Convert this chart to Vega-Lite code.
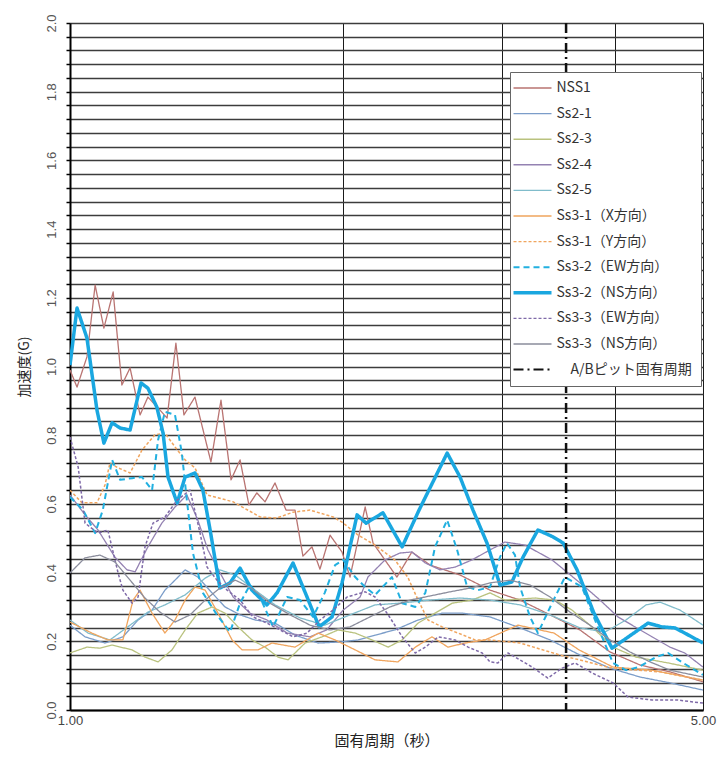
{
  "$schema": "https://vega.github.io/schema/vega-lite/v6.json",
  "width": 633,
  "height": 687,
  "autosize": {"type": "none"},
  "padding": {"left": 70, "top": 23, "right": 19, "bottom": 48},
  "background": "white",
  "config": {"view": {"stroke": null}},
  "datasets": {
    "pit": [{"period": 3.53, "series": "A/Bピット固有周期"}],
    "spectra": [
      {"series":"NSS1","period":1.000,"acc":0.990},{"series":"NSS1","period":1.018,"acc":0.940},{"series":"NSS1","period":1.044,"acc":1.028},{"series":"NSS1","period":1.066,"acc":1.237},{"series":"NSS1","period":1.090,"acc":1.112},{"series":"NSS1","period":1.116,"acc":1.217},{"series":"NSS1","period":1.141,"acc":0.946},{"series":"NSS1","period":1.165,"acc":0.996},{"series":"NSS1","period":1.195,"acc":0.859},{"series":"NSS1","period":1.219,"acc":0.911},{"series":"NSS1","period":1.257,"acc":0.873},{"series":"NSS1","period":1.280,"acc":0.850},{"series":"NSS1","period":1.309,"acc":1.068},{"series":"NSS1","period":1.336,"acc":0.859},{"series":"NSS1","period":1.374,"acc":0.911},{"series":"NSS1","period":1.431,"acc":0.722},{"series":"NSS1","period":1.468,"acc":0.902},{"series":"NSS1","period":1.506,"acc":0.670},{"series":"NSS1","period":1.541,"acc":0.728},{"series":"NSS1","period":1.576,"acc":0.597},{"series":"NSS1","period":1.608,"acc":0.632},{"series":"NSS1","period":1.642,"acc":0.606},{"series":"NSS1","period":1.684,"acc":0.661},{"series":"NSS1","period":1.732,"acc":0.582},{"series":"NSS1","period":1.772,"acc":0.582},{"series":"NSS1","period":1.808,"acc":0.448},{"series":"NSS1","period":1.850,"acc":0.475},{"series":"NSS1","period":1.888,"acc":0.410},{"series":"NSS1","period":1.937,"acc":0.509},{"series":"NSS1","period":1.997,"acc":0.460},{"series":"NSS1","period":2.038,"acc":0.387},{"series":"NSS1","period":2.118,"acc":0.591},{"series":"NSS1","period":2.161,"acc":0.486},{"series":"NSS1","period":2.216,"acc":0.445},{"series":"NSS1","period":2.296,"acc":0.387},{"series":"NSS1","period":2.385,"acc":0.460},{"series":"NSS1","period":2.498,"acc":0.422},{"series":"NSS1","period":2.696,"acc":0.393},{"series":"NSS1","period":2.909,"acc":0.349},{"series":"NSS1","period":3.140,"acc":0.320},{"series":"NSS1","period":3.389,"acc":0.277},{"series":"NSS1","period":3.657,"acc":0.233},{"series":"NSS1","period":3.947,"acc":0.169},{"series":"NSS1","period":4.260,"acc":0.131},{"series":"NSS1","period":4.597,"acc":0.111},{"series":"NSS1","period":5.000,"acc":0.082},

      {"series":"Ss2-1","period":1.000,"acc":0.247},{"series":"Ss2-1","period":1.039,"acc":0.213},{"series":"Ss2-1","period":1.093,"acc":0.195},{"series":"Ss2-1","period":1.144,"acc":0.213},{"series":"Ss2-1","period":1.189,"acc":0.262},{"series":"Ss2-1","period":1.232,"acc":0.291},{"series":"Ss2-1","period":1.273,"acc":0.349},{"series":"Ss2-1","period":1.306,"acc":0.378},{"series":"Ss2-1","period":1.340,"acc":0.408},{"series":"Ss2-1","period":1.384,"acc":0.387},{"series":"Ss2-1","period":1.435,"acc":0.341},{"series":"Ss2-1","period":1.483,"acc":0.300},{"series":"Ss2-1","period":1.541,"acc":0.277},{"series":"Ss2-1","period":1.601,"acc":0.262},{"series":"Ss2-1","period":1.684,"acc":0.253},{"series":"Ss2-1","period":1.772,"acc":0.218},{"series":"Ss2-1","period":1.879,"acc":0.195},{"series":"Ss2-1","period":1.987,"acc":0.198},{"series":"Ss2-1","period":2.081,"acc":0.204},{"series":"Ss2-1","period":2.172,"acc":0.218},{"series":"Ss2-1","period":2.284,"acc":0.233},{"series":"Ss2-1","period":2.423,"acc":0.262},{"series":"Ss2-1","period":2.576,"acc":0.282},{"series":"Ss2-1","period":2.710,"acc":0.282},{"series":"Ss2-1","period":2.909,"acc":0.271},{"series":"Ss2-1","period":3.140,"acc":0.239},{"series":"Ss2-1","period":3.389,"acc":0.204},{"series":"Ss2-1","period":3.657,"acc":0.160},{"series":"Ss2-1","period":3.947,"acc":0.122},{"series":"Ss2-1","period":4.260,"acc":0.096},{"series":"Ss2-1","period":4.597,"acc":0.079},{"series":"Ss2-1","period":5.000,"acc":0.058},

      {"series":"Ss2-3","period":1.000,"acc":0.166},{"series":"Ss2-3","period":1.044,"acc":0.183},{"series":"Ss2-3","period":1.079,"acc":0.180},{"series":"Ss2-3","period":1.113,"acc":0.189},{"series":"Ss2-3","period":1.171,"acc":0.175},{"series":"Ss2-3","period":1.210,"acc":0.154},{"series":"Ss2-3","period":1.251,"acc":0.140},{"series":"Ss2-3","period":1.296,"acc":0.175},{"series":"Ss2-3","period":1.340,"acc":0.233},{"series":"Ss2-3","period":1.384,"acc":0.282},{"series":"Ss2-3","period":1.435,"acc":0.300},{"series":"Ss2-3","period":1.483,"acc":0.282},{"series":"Ss2-3","period":1.533,"acc":0.242},{"series":"Ss2-3","period":1.588,"acc":0.204},{"series":"Ss2-3","period":1.642,"acc":0.183},{"series":"Ss2-3","period":1.697,"acc":0.154},{"series":"Ss2-3","period":1.741,"acc":0.146},{"series":"Ss2-3","period":1.818,"acc":0.195},{"series":"Ss2-3","period":1.898,"acc":0.213},{"series":"Ss2-3","period":1.977,"acc":0.233},{"series":"Ss2-3","period":2.065,"acc":0.224},{"series":"Ss2-3","period":2.155,"acc":0.204},{"series":"Ss2-3","period":2.246,"acc":0.183},{"series":"Ss2-3","period":2.327,"acc":0.204},{"series":"Ss2-3","period":2.423,"acc":0.253},{"series":"Ss2-3","period":2.530,"acc":0.282},{"series":"Ss2-3","period":2.643,"acc":0.311},{"series":"Ss2-3","period":2.779,"acc":0.320},{"series":"Ss2-3","period":2.909,"acc":0.341},{"series":"Ss2-3","period":3.022,"acc":0.320},{"series":"Ss2-3","period":3.262,"acc":0.326},{"series":"Ss2-3","period":3.432,"acc":0.320},{"series":"Ss2-3","period":3.583,"acc":0.291},{"series":"Ss2-3","period":3.770,"acc":0.242},{"series":"Ss2-3","period":3.977,"acc":0.183},{"series":"Ss2-3","period":4.216,"acc":0.154},{"series":"Ss2-3","period":4.575,"acc":0.137},{"series":"Ss2-3","period":5.000,"acc":0.116},

      {"series":"Ss2-4","period":1.000,"acc":0.626},{"series":"Ss2-4","period":1.039,"acc":0.568},{"series":"Ss2-4","period":1.074,"acc":0.524},{"series":"Ss2-4","period":1.121,"acc":0.445},{"series":"Ss2-4","period":1.156,"acc":0.408},{"series":"Ss2-4","period":1.180,"acc":0.402},{"series":"Ss2-4","period":1.219,"acc":0.475},{"series":"Ss2-4","period":1.263,"acc":0.544},{"series":"Ss2-4","period":1.306,"acc":0.591},{"series":"Ss2-4","period":1.346,"acc":0.626},{"series":"Ss2-4","period":1.384,"acc":0.553},{"series":"Ss2-4","period":1.420,"acc":0.466},{"series":"Ss2-4","period":1.453,"acc":0.416},{"series":"Ss2-4","period":1.514,"acc":0.329},{"series":"Ss2-4","period":1.580,"acc":0.282},{"series":"Ss2-4","period":1.650,"acc":0.262},{"series":"Ss2-4","period":1.737,"acc":0.224},{"series":"Ss2-4","period":1.841,"acc":0.213},{"series":"Ss2-4","period":1.920,"acc":0.233},{"series":"Ss2-4","period":2.003,"acc":0.291},{"series":"Ss2-4","period":2.091,"acc":0.329},{"series":"Ss2-4","period":2.133,"acc":0.387},{"series":"Ss2-4","period":2.228,"acc":0.437},{"series":"Ss2-4","period":2.314,"acc":0.457},{"series":"Ss2-4","period":2.385,"acc":0.460},{"series":"Ss2-4","period":2.468,"acc":0.428},{"series":"Ss2-4","period":2.562,"acc":0.408},{"series":"Ss2-4","period":2.662,"acc":0.416},{"series":"Ss2-4","period":2.779,"acc":0.437},{"series":"Ss2-4","period":2.909,"acc":0.466},{"series":"Ss2-4","period":3.022,"acc":0.489},{"series":"Ss2-4","period":3.180,"acc":0.480},{"series":"Ss2-4","period":3.406,"acc":0.437},{"series":"Ss2-4","period":3.547,"acc":0.399},{"series":"Ss2-4","period":3.704,"acc":0.358},{"series":"Ss2-4","period":3.848,"acc":0.320},{"series":"Ss2-4","period":4.028,"acc":0.271},{"series":"Ss2-4","period":4.206,"acc":0.242},{"series":"Ss2-4","period":4.392,"acc":0.213},{"series":"Ss2-4","period":4.597,"acc":0.183},{"series":"Ss2-4","period":4.773,"acc":0.166},{"series":"Ss2-4","period":5.000,"acc":0.125},

      {"series":"Ss2-5","period":1.000,"acc":0.262},{"series":"Ss2-5","period":1.047,"acc":0.224},{"series":"Ss2-5","period":1.107,"acc":0.204},{"series":"Ss2-5","period":1.165,"acc":0.247},{"series":"Ss2-5","period":1.219,"acc":0.285},{"series":"Ss2-5","period":1.273,"acc":0.306},{"series":"Ss2-5","period":1.340,"acc":0.335},{"series":"Ss2-5","period":1.410,"acc":0.384},{"series":"Ss2-5","period":1.464,"acc":0.408},{"series":"Ss2-5","period":1.522,"acc":0.393},{"series":"Ss2-5","period":1.601,"acc":0.349},{"series":"Ss2-5","period":1.684,"acc":0.306},{"series":"Ss2-5","period":1.795,"acc":0.268},{"series":"Ss2-5","period":1.911,"acc":0.247},{"series":"Ss2-5","period":2.038,"acc":0.277},{"series":"Ss2-5","period":2.172,"acc":0.306},{"series":"Ss2-5","period":2.314,"acc":0.311},{"series":"Ss2-5","period":2.498,"acc":0.320},{"series":"Ss2-5","period":2.696,"acc":0.326},{"series":"Ss2-5","period":2.909,"acc":0.320},{"series":"Ss2-5","period":3.140,"acc":0.306},{"series":"Ss2-5","period":3.389,"acc":0.277},{"series":"Ss2-5","period":3.657,"acc":0.239},{"series":"Ss2-5","period":3.897,"acc":0.227},{"series":"Ss2-5","period":4.110,"acc":0.262},{"series":"Ss2-5","period":4.326,"acc":0.306},{"series":"Ss2-5","period":4.482,"acc":0.314},{"series":"Ss2-5","period":4.716,"acc":0.291},{"series":"Ss2-5","period":5.000,"acc":0.247},

      {"series":"Ss3-1（X方向）","period":1.000,"acc":0.256},{"series":"Ss3-1（X方向）","period":1.057,"acc":0.224},{"series":"Ss3-1（X方向）","period":1.101,"acc":0.204},{"series":"Ss3-1（X方向）","period":1.144,"acc":0.204},{"series":"Ss3-1（X方向）","period":1.174,"acc":0.320},{"series":"Ss3-1（X方向）","period":1.195,"acc":0.349},{"series":"Ss3-1（X方向）","period":1.232,"acc":0.282},{"series":"Ss3-1（X方向）","period":1.273,"acc":0.224},{"series":"Ss3-1（X方向）","period":1.306,"acc":0.262},{"series":"Ss3-1（X方向）","period":1.340,"acc":0.320},{"series":"Ss3-1（X方向）","period":1.374,"acc":0.358},{"series":"Ss3-1（X方向）","period":1.410,"acc":0.349},{"series":"Ss3-1（X方向）","period":1.457,"acc":0.282},{"series":"Ss3-1（X方向）","period":1.510,"acc":0.204},{"series":"Ss3-1（X方向）","period":1.549,"acc":0.175},{"series":"Ss3-1（X方向）","period":1.613,"acc":0.175},{"series":"Ss3-1（X方向）","period":1.671,"acc":0.195},{"series":"Ss3-1（X方向）","period":1.772,"acc":0.183},{"series":"Ss3-1（X方向）","period":1.879,"acc":0.224},{"series":"Ss3-1（X方向）","period":1.962,"acc":0.204},{"series":"Ss3-1（X方向）","period":2.065,"acc":0.175},{"series":"Ss3-1（X方向）","period":2.172,"acc":0.146},{"series":"Ss3-1（X方向）","period":2.302,"acc":0.140},{"series":"Ss3-1（X方向）","period":2.406,"acc":0.183},{"series":"Ss3-1（X方向）","period":2.510,"acc":0.213},{"series":"Ss3-1（X方向）","period":2.614,"acc":0.183},{"series":"Ss3-1（X方向）","period":2.731,"acc":0.195},{"series":"Ss3-1（X方向）","period":2.873,"acc":0.204},{"series":"Ss3-1（X方向）","period":3.124,"acc":0.247},{"series":"Ss3-1（X方向）","period":3.423,"acc":0.224},{"series":"Ss3-1（X方向）","period":3.648,"acc":0.175},{"series":"Ss3-1（X方向）","period":3.977,"acc":0.125},{"series":"Ss3-1（X方向）","period":4.392,"acc":0.116},{"series":"Ss3-1（X方向）","period":5.000,"acc":0.087},

      {"series":"Ss3-1（Y方向）","period":1.000,"acc":0.640},{"series":"Ss3-1（Y方向）","period":1.031,"acc":0.603},{"series":"Ss3-1（Y方向）","period":1.071,"acc":0.603},{"series":"Ss3-1（Y方向）","period":1.093,"acc":0.655},{"series":"Ss3-1（Y方向）","period":1.107,"acc":0.719},{"series":"Ss3-1（Y方向）","period":1.130,"acc":0.705},{"series":"Ss3-1（Y方向）","period":1.165,"acc":0.690},{"series":"Ss3-1（Y方向）","period":1.201,"acc":0.757},{"series":"Ss3-1（Y方向）","period":1.241,"acc":0.801},{"series":"Ss3-1（Y方向）","period":1.273,"acc":0.806},{"series":"Ss3-1（Y方向）","period":1.306,"acc":0.766},{"series":"Ss3-1（Y方向）","period":1.340,"acc":0.728},{"series":"Ss3-1（Y方向）","period":1.374,"acc":0.705},{"series":"Ss3-1（Y方向）","period":1.417,"acc":0.626},{"series":"Ss3-1（Y方向）","period":1.514,"acc":0.606},{"series":"Ss3-1（Y方向）","period":1.621,"acc":0.562},{"series":"Ss3-1（Y方向）","period":1.693,"acc":0.559},{"series":"Ss3-1（Y方向）","period":1.763,"acc":0.576},{"series":"Ss3-1（Y方向）","period":1.841,"acc":0.582},{"series":"Ss3-1（Y方向）","period":1.952,"acc":0.562},{"series":"Ss3-1（Y方向）","period":1.997,"acc":0.547},{"series":"Ss3-1（Y方向）","period":2.081,"acc":0.509},{"series":"Ss3-1（Y方向）","period":2.172,"acc":0.480},{"series":"Ss3-1（Y方向）","period":2.284,"acc":0.437},{"series":"Ss3-1（Y方向）","period":2.360,"acc":0.387},{"series":"Ss3-1（Y方向）","period":2.423,"acc":0.320},{"series":"Ss3-1（Y方向）","period":2.485,"acc":0.262},{"series":"Ss3-1（Y方向）","period":2.576,"acc":0.242},{"series":"Ss3-1（Y方向）","period":2.682,"acc":0.224},{"series":"Ss3-1（Y方向）","period":2.800,"acc":0.204},{"series":"Ss3-1（Y方向）","period":2.909,"acc":0.204},{"series":"Ss3-1（Y方向）","period":3.140,"acc":0.195},{"series":"Ss3-1（Y方向）","period":3.476,"acc":0.160},{"series":"Ss3-1（Y方向）","period":3.967,"acc":0.122},{"series":"Ss3-1（Y方向）","period":4.482,"acc":0.111},{"series":"Ss3-1（Y方向）","period":5.000,"acc":0.087},

      {"series":"Ss3-2（EW方向）","period":1.000,"acc":0.620},{"series":"Ss3-2（EW方向）","period":1.034,"acc":0.582},{"series":"Ss3-2（EW方向）","period":1.066,"acc":0.515},{"series":"Ss3-2（EW方向）","period":1.087,"acc":0.582},{"series":"Ss3-2（EW方向）","period":1.113,"acc":0.728},{"series":"Ss3-2（EW方向）","period":1.136,"acc":0.670},{"series":"Ss3-2（EW方向）","period":1.171,"acc":0.675},{"series":"Ss3-2（EW方向）","period":1.201,"acc":0.678},{"series":"Ss3-2（EW方向）","period":1.232,"acc":0.640},{"series":"Ss3-2（EW方向）","period":1.251,"acc":0.786},{"series":"Ss3-2（EW方向）","period":1.273,"acc":0.868},{"series":"Ss3-2（EW方向）","period":1.306,"acc":0.859},{"series":"Ss3-2（EW方向）","period":1.329,"acc":0.748},{"series":"Ss3-2（EW方向）","period":1.346,"acc":0.611},{"series":"Ss3-2（EW方向）","period":1.367,"acc":0.457},{"series":"Ss3-2（EW方向）","period":1.402,"acc":0.341},{"series":"Ss3-2（EW方向）","period":1.453,"acc":0.277},{"series":"Ss3-2（EW方向）","period":1.502,"acc":0.227},{"series":"Ss3-2（EW方向）","period":1.541,"acc":0.311},{"series":"Ss3-2（EW方向）","period":1.580,"acc":0.364},{"series":"Ss3-2（EW方向）","period":1.621,"acc":0.329},{"series":"Ss3-2（EW方向）","period":1.676,"acc":0.242},{"series":"Ss3-2（EW方向）","period":1.737,"acc":0.329},{"series":"Ss3-2（EW方向）","period":1.795,"acc":0.320},{"series":"Ss3-2（EW方向）","period":1.855,"acc":0.271},{"series":"Ss3-2（EW方向）","period":1.911,"acc":0.341},{"series":"Ss3-2（EW方向）","period":1.962,"acc":0.422},{"series":"Ss3-2（EW方向）","period":2.003,"acc":0.437},{"series":"Ss3-2（EW方向）","period":2.065,"acc":0.387},{"series":"Ss3-2（EW方向）","period":2.118,"acc":0.358},{"series":"Ss3-2（EW方向）","period":2.172,"acc":0.335},{"series":"Ss3-2（EW方向）","period":2.267,"acc":0.387},{"series":"Ss3-2（EW方向）","period":2.327,"acc":0.311},{"series":"Ss3-2（EW方向）","period":2.406,"acc":0.300},{"series":"Ss3-2（EW方向）","period":2.468,"acc":0.341},{"series":"Ss3-2（EW方向）","period":2.530,"acc":0.475},{"series":"Ss3-2（EW方向）","period":2.609,"acc":0.553},{"series":"Ss3-2（EW方向）","period":2.676,"acc":0.466},{"series":"Ss3-2（EW方向）","period":2.745,"acc":0.358},{"series":"Ss3-2（EW方向）","period":2.822,"acc":0.349},{"series":"Ss3-2（EW方向）","period":2.909,"acc":0.358},{"series":"Ss3-2（EW方向）","period":2.984,"acc":0.445},{"series":"Ss3-2（EW方向）","period":3.037,"acc":0.486},{"series":"Ss3-2（EW方向）","period":3.100,"acc":0.451},{"series":"Ss3-2（EW方向）","period":3.140,"acc":0.358},{"series":"Ss3-2（EW方向）","period":3.221,"acc":0.271},{"series":"Ss3-2（EW方向）","period":3.286,"acc":0.224},{"series":"Ss3-2（EW方向）","period":3.406,"acc":0.311},{"series":"Ss3-2（EW方向）","period":3.520,"acc":0.387},{"series":"Ss3-2（EW方向）","period":3.675,"acc":0.358},{"series":"Ss3-2（EW方向）","period":3.799,"acc":0.262},{"series":"Ss3-2（EW方向）","period":3.977,"acc":0.137},{"series":"Ss3-2（EW方向）","period":4.110,"acc":0.116},{"series":"Ss3-2（EW方向）","period":4.248,"acc":0.125},{"series":"Ss3-2（EW方向）","period":4.436,"acc":0.154},{"series":"Ss3-2（EW方向）","period":4.575,"acc":0.166},{"series":"Ss3-2（EW方向）","period":4.754,"acc":0.137},{"series":"Ss3-2（EW方向）","period":5.000,"acc":0.102},

      {"series":"Ss3-2（NS方向）","period":1.000,"acc":1.004},{"series":"Ss3-2（NS方向）","period":1.018,"acc":1.170},{"series":"Ss3-2（NS方向）","period":1.044,"acc":1.083},{"series":"Ss3-2（NS方向）","period":1.071,"acc":0.873},{"series":"Ss3-2（NS方向）","period":1.090,"acc":0.777},{"series":"Ss3-2（NS方向）","period":1.113,"acc":0.836},{"series":"Ss3-2（NS方向）","period":1.136,"acc":0.821},{"series":"Ss3-2（NS方向）","period":1.165,"acc":0.815},{"series":"Ss3-2（NS方向）","period":1.198,"acc":0.952},{"series":"Ss3-2（NS方向）","period":1.219,"acc":0.937},{"series":"Ss3-2（NS方向）","period":1.247,"acc":0.882},{"series":"Ss3-2（NS方向）","period":1.267,"acc":0.806},{"series":"Ss3-2（NS方向）","period":1.283,"acc":0.678},{"series":"Ss3-2（NS方向）","period":1.313,"acc":0.603},{"series":"Ss3-2（NS方向）","period":1.340,"acc":0.678},{"series":"Ss3-2（NS方向）","period":1.374,"acc":0.690},{"series":"Ss3-2（NS方向）","period":1.402,"acc":0.640},{"series":"Ss3-2（NS方向）","period":1.428,"acc":0.524},{"series":"Ss3-2（NS方向）","period":1.464,"acc":0.355},{"series":"Ss3-2（NS方向）","period":1.502,"acc":0.370},{"series":"Ss3-2（NS方向）","period":1.541,"acc":0.413},{"series":"Ss3-2（NS方向）","period":1.588,"acc":0.349},{"series":"Ss3-2（NS方向）","period":1.650,"acc":0.306},{"series":"Ss3-2（NS方向）","period":1.693,"acc":0.341},{"series":"Ss3-2（NS方向）","period":1.763,"acc":0.428},{"series":"Ss3-2（NS方向）","period":1.827,"acc":0.329},{"series":"Ss3-2（NS方向）","period":1.884,"acc":0.242},{"series":"Ss3-2（NS方向）","period":1.947,"acc":0.271},{"series":"Ss3-2（NS方向）","period":1.997,"acc":0.370},{"series":"Ss3-2（NS方向）","period":2.075,"acc":0.568},{"series":"Ss3-2（NS方向）","period":2.123,"acc":0.544},{"series":"Ss3-2（NS方向）","period":2.216,"acc":0.574},{"series":"Ss3-2（NS方向）","period":2.327,"acc":0.475},{"series":"Ss3-2（NS方向）","period":2.429,"acc":0.582},{"series":"Ss3-2（NS方向）","period":2.609,"acc":0.748},{"series":"Ss3-2（NS方向）","period":2.696,"acc":0.678},{"series":"Ss3-2（NS方向）","period":2.786,"acc":0.582},{"series":"Ss3-2（NS方向）","period":2.887,"acc":0.486},{"series":"Ss3-2（NS方向）","period":2.984,"acc":0.364},{"series":"Ss3-2（NS方向）","period":3.076,"acc":0.373},{"series":"Ss3-2（NS方向）","period":3.164,"acc":0.445},{"series":"Ss3-2（NS方向）","period":3.286,"acc":0.524},{"series":"Ss3-2（NS方向）","period":3.415,"acc":0.504},{"series":"Ss3-2（NS方向）","period":3.504,"acc":0.486},{"series":"Ss3-2（NS方向）","period":3.630,"acc":0.408},{"series":"Ss3-2（NS方向）","period":3.789,"acc":0.282},{"series":"Ss3-2（NS方向）","period":3.967,"acc":0.180},{"series":"Ss3-2（NS方向）","period":4.090,"acc":0.204},{"series":"Ss3-2（NS方向）","period":4.348,"acc":0.253},{"series":"Ss3-2（NS方向）","period":4.504,"acc":0.242},{"series":"Ss3-2（NS方向）","period":4.654,"acc":0.239},{"series":"Ss3-2（NS方向）","period":4.773,"acc":0.224},{"series":"Ss3-2（NS方向）","period":5.000,"acc":0.195},

      {"series":"Ss3-3（EW方向）","period":1.000,"acc":0.795},{"series":"Ss3-3（EW方向）","period":1.021,"acc":0.707},{"series":"Ss3-3（EW方向）","period":1.039,"acc":0.544},{"series":"Ss3-3（EW方向）","period":1.074,"acc":0.515},{"series":"Ss3-3（EW方向）","period":1.101,"acc":0.524},{"series":"Ss3-3（EW方向）","period":1.130,"acc":0.399},{"series":"Ss3-3（EW方向）","period":1.144,"acc":0.349},{"series":"Ss3-3（EW方向）","period":1.171,"acc":0.311},{"series":"Ss3-3（EW方向）","period":1.189,"acc":0.329},{"series":"Ss3-3（EW方向）","period":1.210,"acc":0.475},{"series":"Ss3-3（EW方向）","period":1.235,"acc":0.544},{"series":"Ss3-3（EW方向）","period":1.273,"acc":0.562},{"series":"Ss3-3（EW方向）","period":1.313,"acc":0.611},{"series":"Ss3-3（EW方向）","period":1.357,"acc":0.640},{"series":"Ss3-3（EW方向）","period":1.392,"acc":0.515},{"series":"Ss3-3（EW方向）","period":1.417,"acc":0.416},{"series":"Ss3-3（EW方向）","period":1.453,"acc":0.378},{"series":"Ss3-3（EW方向）","period":1.491,"acc":0.349},{"series":"Ss3-3（EW方向）","period":1.541,"acc":0.320},{"series":"Ss3-3（EW方向）","period":1.592,"acc":0.271},{"series":"Ss3-3（EW方向）","period":1.650,"acc":0.253},{"series":"Ss3-3（EW方向）","period":1.706,"acc":0.233},{"series":"Ss3-3（EW方向）","period":1.763,"acc":0.213},{"series":"Ss3-3（EW方向）","period":1.827,"acc":0.224},{"series":"Ss3-3（EW方向）","period":1.888,"acc":0.262},{"series":"Ss3-3（EW方向）","period":1.952,"acc":0.291},{"series":"Ss3-3（EW方向）","period":2.023,"acc":0.329},{"series":"Ss3-3（EW方向）","period":2.118,"acc":0.344},{"series":"Ss3-3（EW方向）","period":2.172,"acc":0.329},{"series":"Ss3-3（EW方向）","period":2.246,"acc":0.277},{"series":"Ss3-3（EW方向）","period":2.327,"acc":0.213},{"series":"Ss3-3（EW方向）","period":2.406,"acc":0.166},{"series":"Ss3-3（EW方向）","period":2.468,"acc":0.183},{"series":"Ss3-3（EW方向）","period":2.551,"acc":0.213},{"series":"Ss3-3（EW方向）","period":2.662,"acc":0.204},{"series":"Ss3-3（EW方向）","period":2.752,"acc":0.183},{"series":"Ss3-3（EW方向）","period":2.852,"acc":0.166},{"series":"Ss3-3（EW方向）","period":2.909,"acc":0.140},{"series":"Ss3-3（EW方向）","period":2.968,"acc":0.137},{"series":"Ss3-3（EW方向）","period":3.045,"acc":0.166},{"series":"Ss3-3（EW方向）","period":3.238,"acc":0.125},{"series":"Ss3-3（EW方向）","period":3.370,"acc":0.093},{"series":"Ss3-3（EW方向）","period":3.495,"acc":0.122},{"series":"Ss3-3（EW方向）","period":3.612,"acc":0.137},{"series":"Ss3-3（EW方向）","period":3.770,"acc":0.108},{"series":"Ss3-3（EW方向）","period":3.977,"acc":0.079},{"series":"Ss3-3（EW方向）","period":4.131,"acc":0.038},{"series":"Ss3-3（EW方向）","period":4.392,"acc":0.029},{"series":"Ss3-3（EW方向）","period":4.691,"acc":0.029},{"series":"Ss3-3（EW方向）","period":5.000,"acc":0.020},

      {"series":"Ss3-3（NS方向）","period":1.000,"acc":0.399},{"series":"Ss3-3（NS方向）","period":1.039,"acc":0.443},{"series":"Ss3-3（NS方向）","period":1.079,"acc":0.451},{"series":"Ss3-3（NS方向）","period":1.121,"acc":0.431},{"series":"Ss3-3（NS方向）","period":1.165,"acc":0.378},{"series":"Ss3-3（NS方向）","period":1.210,"acc":0.326},{"series":"Ss3-3（NS方向）","period":1.257,"acc":0.285},{"series":"Ss3-3（NS方向）","period":1.306,"acc":0.256},{"series":"Ss3-3（NS方向）","period":1.357,"acc":0.277},{"series":"Ss3-3（NS方向）","period":1.410,"acc":0.320},{"series":"Ss3-3（NS方向）","period":1.464,"acc":0.355},{"series":"Ss3-3（NS方向）","period":1.522,"acc":0.378},{"series":"Ss3-3（NS方向）","period":1.580,"acc":0.358},{"series":"Ss3-3（NS方向）","period":1.663,"acc":0.311},{"series":"Ss3-3（NS方向）","period":1.750,"acc":0.277},{"series":"Ss3-3（NS方向）","period":1.841,"acc":0.247},{"series":"Ss3-3（NS方向）","period":1.937,"acc":0.233},{"series":"Ss3-3（NS方向）","period":2.038,"acc":0.242},{"series":"Ss3-3（NS方向）","period":2.144,"acc":0.271},{"series":"Ss3-3（NS方向）","period":2.256,"acc":0.300},{"series":"Ss3-3（NS方向）","period":2.374,"acc":0.320},{"series":"Ss3-3（NS方向）","period":2.498,"acc":0.332},{"series":"Ss3-3（NS方向）","period":2.628,"acc":0.344},{"series":"Ss3-3（NS方向）","period":2.765,"acc":0.355},{"series":"Ss3-3（NS方向）","period":2.909,"acc":0.370},{"series":"Ss3-3（NS方向）","period":3.061,"acc":0.378},{"series":"Ss3-3（NS方向）","period":3.221,"acc":0.364},{"series":"Ss3-3（NS方向）","period":3.389,"acc":0.329},{"series":"Ss3-3（NS方向）","period":3.565,"acc":0.285},{"series":"Ss3-3（NS方向）","period":3.751,"acc":0.247},{"series":"Ss3-3（NS方向）","period":3.947,"acc":0.204},{"series":"Ss3-3（NS方向）","period":4.153,"acc":0.169},{"series":"Ss3-3（NS方向）","period":4.370,"acc":0.140},{"series":"Ss3-3（NS方向）","period":4.597,"acc":0.116},{"series":"Ss3-3（NS方向）","period":5.000,"acc":0.096}
    ]
  },
  "layer": [
    {
      "data": {"name": "spectra"},
      "mark": {"type": "line", "clip": true, "strokeJoin": "round"},
      "encoding": {
        "x": {
          "field": "period", "type": "quantitative",
          "scale": {"type": "log", "domain": [1, 5], "nice": false},
          "axis": {
            "title": "固有周期（秒）",
            "values": [1, 2, 3, 4, 5],
            "labelExpr": "datum.value == 1 || datum.value == 5 ? format(datum.value, '.2f') : ''",
            "grid": true, "gridColor": "#1a1a1a", "gridWidth": 1,
            "domain": true, "domainColor": "#000", "domainWidth": 2,
            "ticks": false,
            "labelFont": "Liberation Sans", "labelFontSize": 13, "labelColor": "#444",
            "labelPadding": 4, "labelOverlap": false, "labelFlush": false,
            "titleFont": "Noto Sans CJK JP", "titleFontSize": 15, "titleFontWeight": "normal",
            "titleColor": "#222", "titlePadding": 6
          }
        },
        "y": {
          "field": "acc", "type": "quantitative",
          "scale": {"domain": [0, 2], "nice": false},
          "axis": {
            "title": "加速度(G)",
            "values": [0,0.04,0.08,0.12,0.16,0.2,0.24,0.28,0.32,0.36,0.4,0.44,0.48,0.52,0.56,0.6,0.64,0.68,0.72,0.76,0.8,0.84,0.88,0.92,0.96,1,1.04,1.08,1.12,1.16,1.2,1.24,1.28,1.32,1.36,1.4,1.44,1.48,1.52,1.56,1.6,1.64,1.68,1.72,1.76,1.8,1.84,1.88,1.92,1.96,2],
            "labelExpr": "abs(datum.value * 5 - round(datum.value * 5)) < 0.01 ? format(datum.value, '.1f') : ''",
            "grid": true, "gridColor": "#3c3c3c", "gridWidth": 1.6,
            "domain": true, "domainColor": "#000", "domainWidth": 2,
            "ticks": true, "tickColor": "#000", "tickSize": 4, "tickWidth": 1.5,
            "labelAngle": 270, "labelAlign": "center", "labelBaseline": "bottom",
            "labelFont": "Liberation Sans", "labelFontSize": 13, "labelColor": "#555",
            "labelPadding": 8, "labelOverlap": false, "labelFlush": false,
            "titleFont": "Noto Sans CJK JP", "titleFontSize": 14, "titleFontWeight": "normal",
            "titleColor": "#222", "titlePadding": 14
          }
        },
        "color": {
          "field": "series", "type": "nominal",
          "scale": {
            "domain": ["NSS1","Ss2-1","Ss2-3","Ss2-4","Ss2-5","Ss3-1（X方向）","Ss3-1（Y方向）","Ss3-2（EW方向）","Ss3-2（NS方向）","Ss3-3（EW方向）","Ss3-3（NS方向）","A/Bピット固有周期"],
            "range": ["#b97472","#7b9dc9","#b9c27e","#9482b2","#80bccb","#f0a55e","#f0a55e","#22b0e0","#1aa7e0","#7f6aa8","#8b8d9c","#111111"]
          },
          "legend": {
            "title": null, "orient": "none", "legendX": 440, "legendY": 49,
            "symbolType": "M-1.9,0L1.9,0", "symbolSize": 400,
            "symbolOffset": 6.5, "labelOffset": 17,
            "labelFont": "Noto Sans CJK JP", "labelFontSize": 14, "labelColor": "#333",
            "rowPadding": 11.6, "padding": 9, "strokeColor": "#666", "fillColor": "white",
            "encode": {
              "symbols": {
                "update": {
                  "size": {"value": 400},
                  "strokeDash": {"signal": "datum.value == 'Ss3-1（Y方向）' || datum.value == 'Ss3-3（EW方向）' ? [3,2] : datum.value == 'Ss3-2（EW方向）' ? [6,4] : datum.value == 'A/Bピット固有周期' ? [10,4,2,4] : [1,0]"},
                  "strokeWidth": {"signal": "datum.value == 'Ss3-2（NS方向）' ? 3.5 : (datum.value == 'Ss3-2（EW方向）' || datum.value == 'A/Bピット固有周期') ? 2 : 1.4"}
                }
              },
              "labels": {
                "update": {
                  "dx": {"signal": "datum.value == 'A/Bピット固有周期' ? 14 : 0"}
                }
              }
            }
          }
        },
        "strokeDash": {
          "field": "series", "type": "nominal",
          "scale": {
            "domain": ["NSS1","Ss2-1","Ss2-3","Ss2-4","Ss2-5","Ss3-1（X方向）","Ss3-1（Y方向）","Ss3-2（EW方向）","Ss3-2（NS方向）","Ss3-3（EW方向）","Ss3-3（NS方向）","A/Bピット固有周期"],
            "range": [[1,0],[1,0],[1,0],[1,0],[1,0],[1,0],[3,2],[6,4],[1,0],[3,2],[1,0],[10,4,2,4]]
          },
          "legend": null
        },
        "strokeWidth": {
          "field": "series", "type": "nominal",
          "scale": {
            "type": "ordinal",
            "domain": ["NSS1","Ss2-1","Ss2-3","Ss2-4","Ss2-5","Ss3-1（X方向）","Ss3-1（Y方向）","Ss3-2（EW方向）","Ss3-2（NS方向）","Ss3-3（EW方向）","Ss3-3（NS方向）","A/Bピット固有周期"],
            "range": [1.3,1.3,1.3,1.3,1.3,1.3,1.5,2,3.5,1.5,1.3,2]
          },
          "legend": null
        }
      }
    },
    {
      "data": {"name": "pit"},
      "mark": {"type": "rule"},
      "encoding": {
        "x": {"field": "period", "type": "quantitative"},
        "color": {"field": "series", "type": "nominal"},
        "strokeDash": {"field": "series", "type": "nominal", "legend": null},
        "strokeWidth": {"field": "series", "type": "nominal", "legend": null}
      }
    }
  ]
}
